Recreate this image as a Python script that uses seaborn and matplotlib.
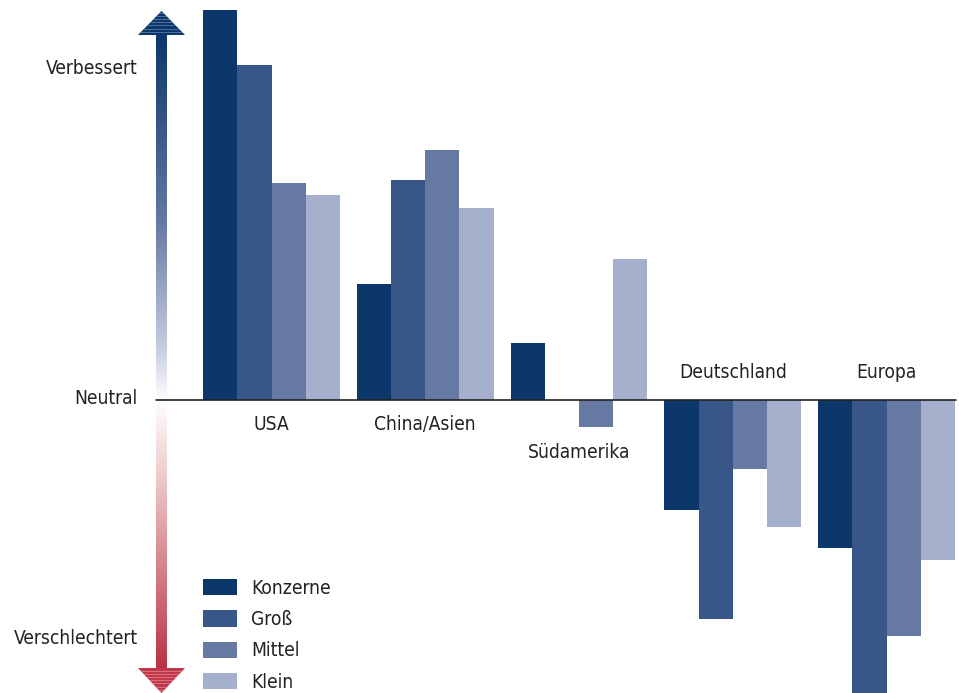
import numpy as np
import pandas as pd
import matplotlib
matplotlib.use("Agg")
import matplotlib.pyplot as plt
import seaborn as sns
from matplotlib.colors import LinearSegmentedColormap
from matplotlib.patches import Polygon

regions = ["USA", "China/Asien", "Südamerika", "Deutschland", "Europa"]
sizes = ["Konzerne", "Groß", "Mittel", "Klein"]
konzerne = [390, 116, 57, -110, -148]
gross = [335, 220, 0, -219, -293]
mittel = [217, 250, -27, -69, -236]
klein = [205, 192, 141, -127, -160]
axis_labels = ["Verbessert", "Neutral", "Verschlechtert"]
axis_label_y = [332, 1, -238]

colors = ["#0b376a", "#385687", "#6579a3", "#a5b0cc"]

rows = []
for vals, s in zip([konzerne, gross, mittel, klein], sizes):
    for r, v in zip(regions, vals):
        rows.append({"Region": r, "Größe": s, "Wert": v})
df = pd.DataFrame(rows)

sns.set_theme(style="white")
plt.rcParams["font.family"] = ["DejaVu Sans"]
plt.rcParams["font.stretch"] = "condensed"

fig = plt.figure(figsize=(9.59, 6.93), dpi=100)
ax = fig.add_axes([0, 0, 1, 1])
sns.barplot(data=df, x="Region", y="Wert", hue="Größe", hue_order=sizes,
            order=regions, palette=colors, width=0.89, saturation=1,
            ax=ax, legend=True, linewidth=0)

x0 = -271.5 / 153.75
x1 = (959 - 271.5) / 153.75
ax.set_xlim(x0, x1)
ax.set_ylim(-293, 400)
ax.axis("off")

def px(x):
    return (x - 271.5) / 153.75

ax.plot([px(156), px(956)], [0, 0], color="#222222", lw=1.2, zorder=5)

# region labels
fs = 13.8
tc = "#222222"
label_pos = {"USA": -25, "China/Asien": -25, "Südamerika": -53,
             "Deutschland": 27, "Europa": 27}
for i, r in enumerate(regions):
    ax.text(i, label_pos[r], r, ha="center", va="center", fontsize=fs, color=tc)

for t, y in zip(axis_labels, axis_label_y):
    ax.text(px(138), y, t, ha="right", va="center", fontsize=fs, color=tc)

# gradient shaft
cmap = LinearSegmentedColormap.from_list(
    "arr", [(0, "#0b376a"), (0.3, "#6679a4"), (0.5, "#c9cfe2"),
            (0.578, "#ffffff"), (0.7, "#eecaca"), (1, "#b83446")])
grad = np.linspace(0, 1, 256).reshape(-1, 1)
ax.imshow(grad, cmap=cmap, aspect="auto",
          extent=[px(156), px(167), 400 - 668, 400 - 33], origin="upper", zorder=3)

def head(pts, color, stripe):
    poly = Polygon(pts, closed=True, facecolor=color, edgecolor="none", zorder=4)
    ax.add_patch(poly)
    ys = [p[1] for p in pts]
    for y in np.arange(min(ys), max(ys), 3.2):
        ln, = ax.plot([px(130), px(195)], [y, y], color=stripe, lw=0.5, zorder=4.5)
        ln.set_clip_path(poly)

head([(px(138), 400 - 35), (px(185), 400 - 35), (px(161.5), 400 - 11)], "#0b376a", "#6f84ae")
head([(px(138), 400 - 668), (px(185), 400 - 668), (px(161.5), 400 - 693)], "#c0384a", "#e08c96")

leg = ax.legend(loc="upper left", bbox_to_anchor=(205 / 959 - 0.012, 1 - 569 / 693),
                frameon=False, fontsize=fs, handlelength=1.75, handleheight=0.92,
                labelspacing=0.65, handletextpad=0.75, borderpad=0, title=None)
for t in leg.get_texts():
    t.set_color(tc)

fig.savefig("out.png", dpi=100)
